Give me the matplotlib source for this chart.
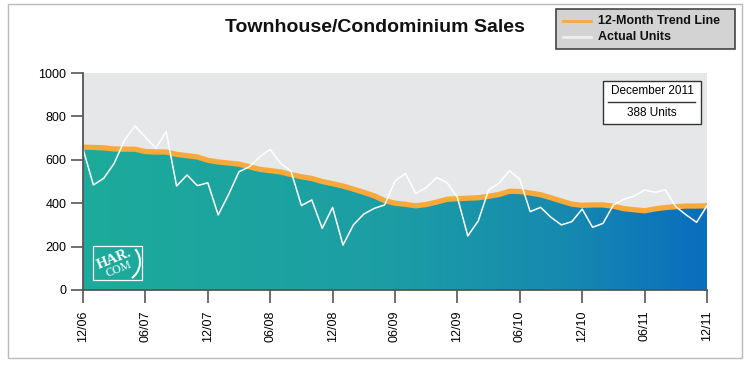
import numpy as np
import matplotlib.pyplot as plt
from matplotlib.colors import LinearSegmentedColormap
from matplotlib.patches import Rectangle, Arc
from matplotlib.lines import Line2D

plt.rcParams['font.family'] = ['Liberation Sans', 'DejaVu Sans']

# monthly data, 12/06 .. 12/11
months = np.arange(61)
tick_pos = np.arange(0, 61, 6)
tick_labels = ['12/06', '06/07', '12/07', '06/08', '12/08', '06/09',
               '12/09', '06/10', '12/10', '06/11', '12/11']

trend = [658, 657, 655, 650, 649, 649, 638, 636, 636, 625, 619, 613,
         598, 590, 585, 580, 568, 556, 550, 544, 532, 522, 514, 500,
         490, 479, 465, 450, 434, 412, 400, 395, 388, 394, 405, 418,
         421, 423, 425, 432, 440, 455, 454, 447, 439, 425, 410, 396,
         390, 392, 392, 386, 375, 370, 365, 374, 380, 384, 387, 387,
         388]
actual = [650, 484, 515, 584, 691, 756, 704, 653, 730, 479, 530, 481,
          494, 346, 440, 545, 568, 614, 648, 584, 548, 389, 415, 284,
          381, 207, 300, 350, 376, 392, 502, 537, 445, 472, 518, 495,
          427, 249, 318, 461, 492, 550, 510, 361, 381, 335, 300, 315,
          373, 289, 307, 392, 418, 433, 461, 450, 461, 384, 346, 312,
          388]

W, H = 750, 365
fig = plt.figure(figsize=(7.5, 3.65), dpi=100)


def fx(x):
    return x / W


def fy(y):
    return 1 - y / H


ax = fig.add_axes([fx(83), fy(290), (707 - 83) / W, (290 - 73) / H])
ax.set_facecolor('#E6E7E9')
ax.set_xlim(0, 60)
ax.set_ylim(0, 1000)

# gradient area under the trend line
cmap = LinearSegmentedColormap.from_list(
    'har', [(0, '#1CAB9B'), (0.5, '#1C9DA5'), (0.78, '#1689B0'), (1, '#0A6DBE')])
poly = ax.fill_between(months, 0, trend, color='none', lw=0)
grad = np.linspace(0, 1, 256).reshape(1, -1)
img = ax.imshow(grad, cmap=cmap, extent=[0, 60, 0, 1000], aspect='auto',
                zorder=1, interpolation='bilinear')
img.set_clip_path(poly.get_paths()[0], transform=ax.transData)

ax.plot(months, trend, color='#F9A93A', lw=3.8, zorder=3, solid_capstyle='butt')
ax.plot(months, actual, color='white', lw=1.1, zorder=4)

for s in ['top', 'right']:
    ax.spines[s].set_visible(False)
for s in ['left', 'bottom']:
    ax.spines[s].set_color('#555555')
    ax.spines[s].set_linewidth(1.3)
    ax.spines[s].set_zorder(5)

ax.set_yticks([0, 200, 400, 600, 800, 1000])
ax.set_xticks(tick_pos, tick_labels, rotation=90)
ax.tick_params(axis='both', length=9, width=1.2, color='#555555', labelsize=9,
               pad=3)
ax.tick_params(axis='x', pad=6)

# title
fig.text(fx(375), fy(27), 'Townhouse/Condominium Sales', ha='center',
         va='center', fontsize=14, fontweight='bold', color='#111111')

# legend
fig.add_artist(Rectangle((fx(556), fy(49)), (735 - 556) / W, (49 - 9) / H,
                         transform=fig.transFigure, facecolor='#D3D3D3',
                         edgecolor='#444444', lw=1.2))
fig.add_artist(Line2D([fx(563), fx(591)], [fy(21), fy(21)], color='#F9A93A',
                      lw=2, transform=fig.transFigure))
fig.add_artist(Line2D([fx(563), fx(591)], [fy(37), fy(37)], color='#EEEEEE',
                      lw=2, transform=fig.transFigure))
fig.text(fx(598), fy(21), '12-Month Trend Line', va='center', fontsize=9,
         fontweight='bold', color='#111111')
fig.text(fx(598), fy(37), 'Actual Units', va='center', fontsize=9,
         fontweight='bold', color='#111111')

# annotation box
fig.add_artist(Rectangle((fx(603), fy(124)), (701 - 603) / W, (124 - 81) / H,
                         transform=fig.transFigure, facecolor='white',
                         edgecolor='#333333', lw=1, zorder=6))
fig.text(fx(652), fy(91), 'December 2011', ha='center', va='center',
         fontsize=8.5, zorder=7)
fig.add_artist(Line2D([fx(608), fx(695)], [fy(102), fy(102)], color='#333333',
                      lw=1, transform=fig.transFigure, zorder=7))
fig.text(fx(652), fy(113), '388 Units', ha='center', va='center',
         fontsize=8.5, zorder=7)

# HAR.COM logo
fig.add_artist(Rectangle((fx(93), fy(280)), (142 - 93) / W, (280 - 246) / H,
                         transform=fig.transFigure, facecolor='none',
                         edgecolor='white', lw=0.9, zorder=6))
fig.text(fx(114), fy(259), 'HAR.', ha='center', va='center', fontsize=10.5,
         fontweight='bold', family='Liberation Serif', color='white',
         rotation=22, zorder=7)
fig.text(fx(119), fy(269), 'COM', ha='center', va='center', fontsize=8.5,
         family='Liberation Serif', color='white', rotation=22, zorder=7)
fig.add_artist(Arc((fx(120), fy(262)), 40 / W, 40 / H, theta1=-70, theta2=60,
                   transform=fig.transFigure, color='white', lw=1.5, zorder=7))

# outer border
fig.add_artist(Rectangle((fx(8), fy(358)), (742 - 8) / W, (358 - 4) / H,
                         transform=fig.transFigure, facecolor='none',
                         edgecolor='#BBBBBB', lw=1))

fig.savefig('out.png', dpi=100)
